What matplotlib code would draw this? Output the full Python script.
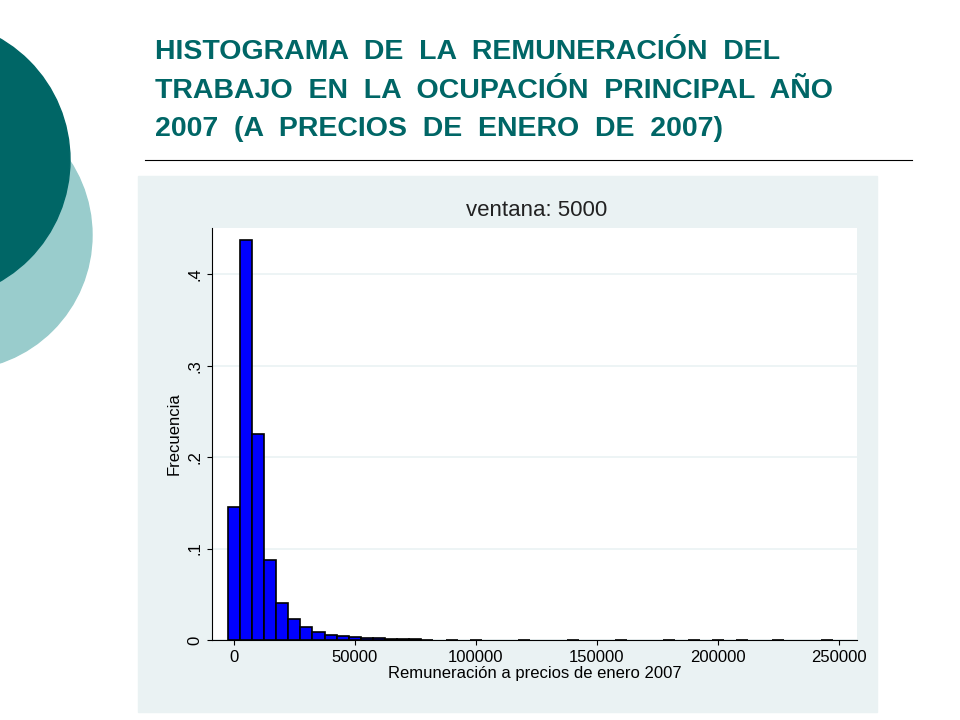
import matplotlib
matplotlib.use("Agg")
import matplotlib.pyplot as plt
from matplotlib.patches import Circle, Rectangle
import numpy as np

bin_centers = [0, 5000, 10000, 15000, 20000, 25000, 30000, 35000, 40000, 45000, 50000,
               55000, 60000, 65000, 70000, 75000, 80000, 90000, 100000, 120000, 140000,
               160000, 180000, 190000, 200000, 210000, 225000, 245000]
freq = [0.145, 0.437, 0.225, 0.087, 0.041, 0.023, 0.014, 0.009, 0.006, 0.004, 0.003,
        0.002, 0.0018, 0.0015, 0.0008, 0.0006, 0.0005, 0.0004, 0.0004, 0.0003, 0.0003,
        0.0004, 0.0003, 0.0004, 0.0004, 0.0004, 0.0003, 0.0004]
yticks = [0, 0.1, 0.2, 0.3, 0.4]
ytick_labels = ["0", ".1", ".2", ".3", ".4"]
xticks = [0, 50000, 100000, 150000, 200000, 250000]

W, H = 960, 720
fig = plt.figure(figsize=(9.6, 7.2), dpi=100)
bg = fig.add_axes([0, 0, 1, 1])
bg.set_xlim(0, W); bg.set_ylim(H, 0); bg.axis("off")
bg.add_patch(Circle((-43, 235), 135, color="#99CCCC"))
bg.add_patch(Circle((-70, 160), 140, color="#006666"))
bg.plot([145, 912], [160, 160], color="black", lw=0.8)
title_lines = ["HISTOGRAMA DE LA REMUNERACIÓN DEL",
               "TRABAJO EN LA OCUPACIÓN PRINCIPAL AÑO",
               "2007 (A PRECIOS DE ENERO DE 2007)"]
for i, line in enumerate(title_lines):
    bg.text(155, 52 + 38.5 * i, line.replace(" ", "  "), color="#006666", fontsize=20.5,
            fontweight="bold", family="Liberation Sans", va="center", ha="left")
bg.add_patch(Rectangle((138, 176), 739, 536, color="#EAF2F3"))
bg.text(537, 210, "ventana: 5000", fontsize=16, ha="center", va="center",
        family="Liberation Sans", color="#222222")

ax = fig.add_axes([212 / W, 1 - 640 / H, (857 - 212) / W, (640 - 228) / H])
ax.set_facecolor("white")
ax.bar(bin_centers, freq, width=5000, color="#0000FF", edgecolor="black", linewidth=1.2, zorder=3)
ax.set_xlim(-9000, 257500)
ax.set_ylim(0, 0.4505)
ax.set_yticks(yticks)
ax.set_yticklabels(ytick_labels, rotation=90, va="center", fontsize=12, family="Liberation Sans")
ax.set_xticks(xticks)
ax.set_xticklabels([str(x) for x in xticks], fontsize=12, family="Liberation Sans")
ax.grid(axis="y", color="#EAF2F3", lw=1.2, zorder=0)
for s in ["top", "right"]:
    ax.spines[s].set_visible(False)
ax.set_ylabel("Frecuencia", fontsize=12, family="Liberation Sans", labelpad=4)
ax.set_xlabel("Remuneración a precios de enero 2007", fontsize=12, family="Liberation Sans", labelpad=1)
fig.savefig("out.png", dpi=100)
